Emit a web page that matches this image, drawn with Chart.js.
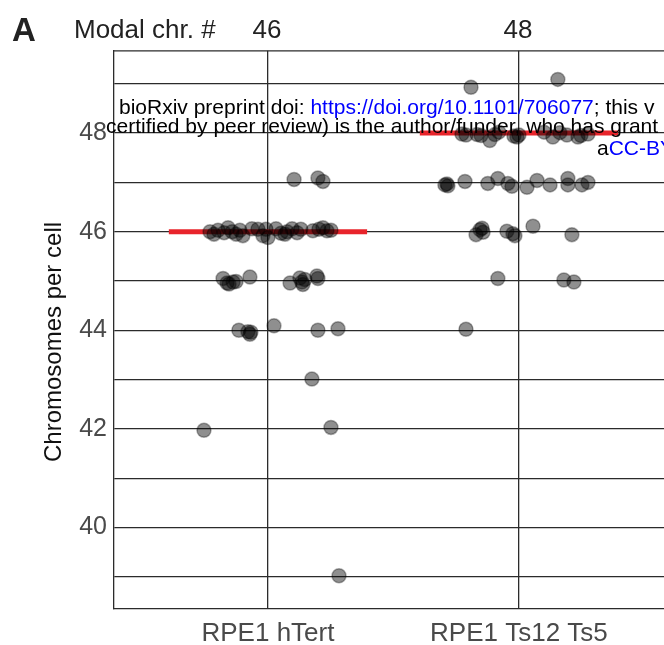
<!DOCTYPE html>
<html>
<head>
<meta charset="utf-8">
<script src="https://cdn.jsdelivr.net/npm/chart.js@4.4.1/dist/chart.umd.min.js"></script>
<style>
  body { margin: 0; background: #fff; }
  canvas { display: block; }
</style>
</head>
<body>
<canvas id="chromChart" width="664" height="645"></canvas>
<script>
// categories and modal chromosome numbers
const categories = ['RPE1 hTert', 'RPE1 Ts12 Ts5'];
const modalChr = [46, 48];

// hTert cells: horizontal jitter and chromosome count per cell
const htertJitter = [0.104, 0.199, 0.219,
  -0.231, -0.215, -0.199, -0.175, -0.159, -0.143, -0.127, -0.112, -0.100, -0.064, -0.040, -0.020, -0.008,
  0.000, 0.032, 0.052, 0.068, 0.076, 0.096, 0.116, 0.131, 0.179, 0.203, 0.219, 0.235, 0.251,
  -0.179, -0.163, -0.155, -0.139, -0.127, -0.072, 0.088, 0.127, 0.135, 0.139, 0.147, 0.195, 0.199,
  -0.116, -0.080, -0.072, -0.068, 0.024, 0.199, 0.279,
  0.175, -0.255, 0.251, 0.283];
const htertCounts = [47.06, 47.09, 47.02,
  46.00, 45.95, 46.03, 45.98, 46.08, 46.00, 45.95, 46.03, 45.92, 46.06, 46.05, 45.92, 46.05,
  45.88, 46.06, 45.97, 45.95, 46.00, 46.06, 45.98, 46.05, 46.02, 46.05, 46.08, 46.02, 46.03,
  45.05, 44.96, 44.94, 44.98, 44.99, 45.08, 44.96, 45.06, 44.98, 44.93, 45.03, 45.10, 45.05,
  44.00, 43.97, 43.92, 43.96, 44.09, 44.00, 44.03,
  43.01, 41.97, 42.03, 39.02];

// Ts12 Ts5 cells
const ts12Jitter = [-0.191, 0.155,
  -0.227, -0.211, -0.167, -0.151, -0.116, -0.096, -0.080, -0.020, -0.008, 0.000, 0.100, 0.135, 0.163, 0.191, 0.235, 0.247, 0.275,
  -0.295, -0.287, -0.283, -0.215, -0.124, -0.084, -0.044, -0.028, 0.032, 0.072, 0.124, 0.195, 0.195, 0.251, 0.275,
  -0.171, -0.155, -0.147, -0.143, -0.048, -0.024, -0.016, 0.056, 0.211,
  -0.084, 0.179, 0.219,
  -0.211];
const ts12Counts = [48.93, 49.09,
  47.98, 47.96, 47.97, 47.95, 47.85, 47.97, 48.02, 47.94, 47.92, 47.96, 48.02, 47.92, 48.01, 47.96, 47.92, 47.95, 47.98,
  46.95, 46.97, 46.93, 47.02, 46.98, 47.08, 46.98, 46.92, 46.90, 47.04, 46.95, 47.08, 46.95, 46.95, 47.00,
  45.94, 46.04, 46.07, 45.99, 46.01, 45.96, 45.92, 46.11, 45.94,
  45.05, 45.02, 44.98,
  44.02];

// median per category, drawn as a red bar
const medians = [46, 48];
const medianHalfWidth = 0.395;

const FONT = '"Liberation Sans", Arial, Helvetica, sans-serif';

function toPoints(catIndex, jitter, counts) {
  return counts.map((c, i) => ({ x: catIndex + jitter[i], y: c }));
}

const pointStyle = {
  type: 'scatter',
  pointRadius: 7,
  pointHoverRadius: 7,
  backgroundColor: 'rgba(0,0,0,0.44)',
  borderColor: 'rgba(0,0,0,0.32)',
  borderWidth: 1.5,
  order: 0
};

const datasets = [
  Object.assign({ data: toPoints(0, htertJitter, htertCounts) }, pointStyle),
  Object.assign({ data: toPoints(1, ts12Jitter, ts12Counts) }, pointStyle)
];

// red median bars
medians.forEach((m, i) => {
  datasets.push({
    type: 'line',
    data: [{ x: i - medianHalfWidth, y: m }, { x: i + medianHalfWidth, y: m }],
    borderColor: '#e8242b',
    borderWidth: 5,
    pointRadius: 0,
    borderCapStyle: 'butt',
    order: 1
  });
});

// titles, frame top and the preprint watermark
const overlayPlugin = {
  id: 'overlay',
  afterDraw(chart) {
    const ctx = chart.ctx;
    const area = chart.chartArea;
    const xs = chart.scales.x;
    ctx.save();

    // top edge of the frame
    ctx.strokeStyle = '#2b2b2b';
    ctx.lineWidth = 1.3;
    ctx.beginPath();
    ctx.moveTo(area.left, area.top);
    ctx.lineTo(area.right, area.top);
    ctx.stroke();

    ctx.textBaseline = 'alphabetic';
    ctx.fillStyle = '#222';
    ctx.font = 'bold 33px ' + FONT;
    ctx.textAlign = 'left';
    ctx.fillText('A', 12, 41);

    ctx.font = '26px ' + FONT;
    ctx.fillText('Modal chr. #', 74, 38);
    ctx.textAlign = 'center';
    modalChr.forEach((m, i) => {
      ctx.fillText(String(m), xs.getPixelForValue(i) - 1, 38);
    });

    // y axis title
    ctx.save();
    ctx.translate(54, 342);
    ctx.rotate(-Math.PI / 2);
    ctx.textAlign = 'center';
    ctx.textBaseline = 'middle';
    ctx.fillStyle = '#111';
    ctx.font = '24px ' + FONT;
    ctx.fillText('Chromosomes per cell', 0, 0);
    ctx.restore();

    // watermark lines
    ctx.textAlign = 'left';
    ctx.font = '21px ' + FONT;
    let x = 119;
    const parts = [['bioRxiv preprint doi: ', '#000'], ['https://doi.org/10.1101/706077', '#0000ff'], ['; this v', '#000']];
    parts.forEach(p => {
      ctx.fillStyle = p[1];
      ctx.fillText(p[0], x, 114);
      x += ctx.measureText(p[0]).width;
    });
    ctx.fillStyle = '#000';
    ctx.fillText('certified by peer review) is the author/funder, who has grant', 106, 133);
    ctx.fillText('a', 597, 155);
    ctx.fillStyle = '#0000ff';
    ctx.fillText('CC-BY', 597 + ctx.measureText('a').width, 155);

    ctx.restore();
  }
};

const ctx = document.getElementById('chromChart').getContext('2d');
new Chart(ctx, {
  data: { datasets: datasets },
  options: {
    responsive: false,
    animation: false,
    devicePixelRatio: 1,
    layout: { autoPadding: false, padding: { top: 50.8, left: 0, right: 0, bottom: 0 } },
    plugins: {
      legend: { display: false },
      tooltip: { enabled: false }
    },
    scales: {
      x: {
        type: 'linear',
        min: -0.6135,
        max: 1.578,
        afterFit: s => { s.height = 36.7; s.paddingLeft = 0; s.paddingRight = 0; },
        afterBuildTicks: s => { s.ticks = categories.map((c, i) => ({ value: i })); },
        grid: { color: '#2b2b2b', lineWidth: 1.3, drawTicks: false },
        border: { display: true, color: '#2b2b2b', width: 1.3 },
        ticks: {
          autoSkip: false,
          maxRotation: 0,
          padding: 10,
          color: '#4a4a4a',
          font: { family: FONT, size: 26 },
          callback: v => categories[v]
        }
      },
      y: {
        min: 38.36,
        max: 49.67,
        afterFit: s => { s.width = 114; },
        grid: { color: '#2b2b2b', lineWidth: 1.3, drawTicks: false },
        border: { display: true, color: '#2b2b2b', width: 1.3 },
        ticks: {
          stepSize: 1,
          includeBounds: false,
          autoSkip: false,
          padding: 7,
          color: '#4a4a4a',
          font: { family: FONT, size: 25 },
          callback: v => (v % 2 === 0 ? String(v) : '')
        }
      }
    }
  },
  plugins: [overlayPlugin]
});
</script>
</body>
</html>
